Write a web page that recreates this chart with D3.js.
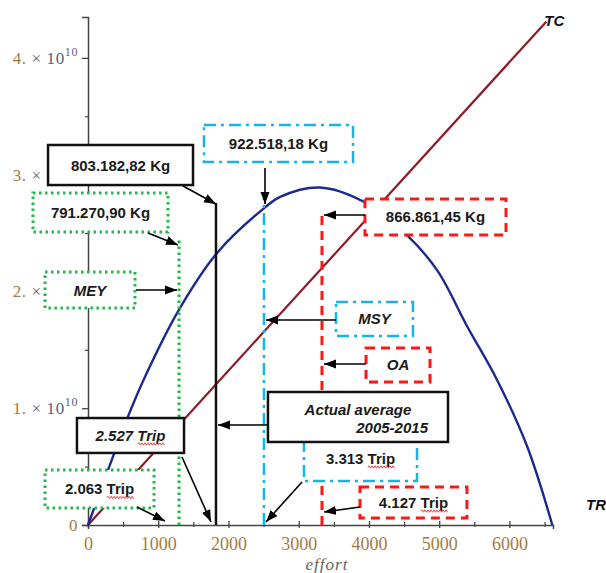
<!DOCTYPE html>
<html><head><meta charset="utf-8">
<script src="https://cdn.jsdelivr.net/npm/d3@7"></script>
<style>body{margin:0;background:#fff}</style>
</head><body>
<svg id="chart" width="606" height="573"></svg>
<script>
// ---------- DATA ----------
const effort = [0, 285, 570, 812, 1282, 1838, 2521, 2735, 3300, 3917, 4544, 4972, 5399, 5826, 6254, 6610];
const totalRevenue = [0, 0.47e10, 0.93e10, 1.27e10, 1.83e10, 2.33e10, 2.72e10, 2.81e10, 2.89e10, 2.77e10, 2.48e10, 2.18e10, 1.70e10, 1.24e10, 0.67e10, 0];
const costEffort = [0, 6524];
const totalCost = [0, 4.31e10];
const xMajorTicks = [0, 1000, 2000, 3000, 4000, 5000, 6000];
const xMinorTicks = [500, 1500, 2500, 3500, 4500, 5500, 6500];
const yMajorTicks = [0, 1e10, 2e10, 3e10, 4e10];
const yMinorTicks = [0.5e10, 1.5e10, 2.5e10, 3.5e10];
const yTickMantissa = ["0", "1.", "2.", "3.", "4."];
const refNames = ["MEY", "Actual", "MSY", "OA"];
const refEffort = [1296, 1822, 2505, 3331];
const refTop = [2.466e10, 2.757e10, 2.80e10, 2.67e10];

// annotation boxes and arrows, in data units (effort, value)
const annotations = [
  {lines:["803.182,82 Kg"], kind:"Actual", box:[-569,1495,3.254e10,2.911e10], arrow:[[1352,2.903e10],[1822,2.749e10]]},
  {lines:["791.270,90 Kg"], kind:"MEY", box:[-783,1139,2.843e10,2.509e10], arrow:[[854,2.500e10],[1281,2.398e10]]},
  {lines:["MEY"], italic:true, kind:"MEY", box:[-612,669,2.166e10,1.858e10], arrow:[[683,2.012e10],[1267,2.012e10]]},
  {lines:["922.518,18 Kg"], kind:"MSY", box:[1651,3773,3.425e10,3.108e10], arrow:[[2520,3.057e10],[2520,2.749e10]]},
  {lines:["866.861,45 Kg"], kind:"OA", box:[3943,5951,2.792e10,2.483e10], arrow:[[3943,2.655e10],[3360,2.655e10]]},
  {lines:["MSY"], italic:true, kind:"MSY", box:[3531,4627,1.910e10,1.618e10], arrow:[[3531,1.755e10],[2534,1.755e10]]},
  {lines:["OA"], italic:true, kind:"OA", box:[3958,4869,1.516e10,1.225e10], arrow:[[3958,1.379e10],[3360,1.379e10]]},
  {lines:["3.313 Trip"], kind:"MSY", box:[3075,4684,0.762e10,0.377e10], arrow:[[3047,0.368e10],[2534,0.026e10]]},
  {lines:["Actual average","2005-2015"], italic:true, kind:"Actual", box:[2562,5125,1.139e10,0.711e10], arrow:[[2562,0.856e10],[1851,0.856e10]]},
  {lines:["2.527 Trip"], italic:true, kind:"Actual", box:[-157,1367,0.916e10,0.617e10], arrow:[[1338,0.582e10],[1751,0.026e10]]},
  {lines:["2.063 Trip"], kind:"MEY", box:[-612,940,0.471e10,0.146e10], arrow:[[698,0.154e10],[1096,0.034e10]]},
  {lines:["4.127 Trip"], kind:"OA", box:[3872,5395,0.325e10,0.060e10], arrow:[[3872,0.154e10],[3360,0.111e10]]}
];

// ---------- STYLE ----------
const styles = {
  MEY:    {stroke:"#21b84a", width:3,   dash:"2.5,3.5"},
  Actual: {stroke:"#111111", width:2.5, dash:null},
  MSY:    {stroke:"#19b1ea", width:2.5, dash:"12,5,3,5"},
  OA:     {stroke:"#ff1717", width:3,   dash:"9,6"}
};
const tickColor = "#a27b42";
const expColor = "#5b6078";

const svg = d3.select("#chart");
const x = d3.scaleLinear().domain([0, 6620]).range([88, 553]);
const y = d3.scaleLinear().domain([0, 4.35e10]).range([525, 17]);

svg.append("defs").append("marker")
  .attr("id","ah").attr("viewBox","0 -5 12 10")
  .attr("markerUnits","userSpaceOnUse").attr("markerWidth",12).attr("markerHeight",10)
  .attr("refX",12).attr("refY",0).attr("orient","auto")
  .append("path").attr("d","M0,-4.5L12,0L0,4.5Z").attr("fill","#000");

// ---------- AXES ----------
const xAxis = svg.append("g").attr("transform",`translate(0,${y(0)})`)
  .call(d3.axisBottom(x).tickValues(xMajorTicks).tickSizeOuter(0).tickSize(4).tickFormat(d3.format("d")));
xAxis.select(".domain").attr("stroke","#444").attr("stroke-width",1.5);
xAxis.selectAll(".tick line").attr("y1",-4).attr("y2",3).attr("stroke","#444").attr("stroke-width",1.3);
xAxis.selectAll(".tick text").attr("y",12).attr("font-family","Liberation Serif, serif")
  .attr("font-size",18).attr("fill",tickColor);
const xMinor = svg.append("g").attr("transform",`translate(0,${y(0)})`)
  .call(d3.axisBottom(x).tickValues(xMinorTicks).tickSize(3).tickFormat(""));
xMinor.select(".domain").remove();
xMinor.selectAll(".tick line").attr("y1",-3).attr("y2",2).attr("stroke","#444").attr("stroke-width",1.2);

const yAxis = svg.append("g").attr("transform",`translate(${x(0)},0)`)
  .call(d3.axisLeft(y).tickValues(yMajorTicks).tickSizeOuter(0).tickSize(6).tickFormat(""));
yAxis.select(".domain").attr("stroke","#444").attr("stroke-width",1.5);
yAxis.selectAll(".tick line").attr("stroke","#444").attr("stroke-width",1.3);
const yMinor = svg.append("g").attr("transform",`translate(${x(0)},0)`)
  .call(d3.axisLeft(y).tickValues(yMinorTicks).tickSize(3).tickFormat(""));
yMinor.select(".domain").remove();
yMinor.selectAll(".tick line").attr("stroke","#444").attr("stroke-width",1.2);

const yLab = svg.append("g").selectAll("text").data(yMajorTicks).join("text")
  .attr("x", x(0) - 10).attr("y", d => y(d) + 6)
  .attr("text-anchor","end").attr("font-family","Liberation Serif, serif").attr("font-size",17)
  .attr("letter-spacing", 0.6);
yLab.each(function(d, i){
  const t = d3.select(this);
  t.append("tspan").attr("fill",tickColor).text(yTickMantissa[i]);
  if (d !== 0) {
    t.append("tspan").attr("fill",expColor).text(" \u00d7 10");
    t.append("tspan").attr("fill",expColor).attr("font-size",12).attr("dy",-8).text("10");
  }
});

svg.append("text").attr("x", 327).attr("y", 570).attr("text-anchor","middle")
  .attr("font-family","Liberation Serif, serif").attr("font-style","italic").attr("font-size",17)
  .attr("letter-spacing",1).attr("fill","#66625a").text("effort");

// ---------- CURVES ----------
const trData = effort.map((e,i)=>({e, v: totalRevenue[i]}));
const tcData = costEffort.map((e,i)=>({e, v: totalCost[i]}));
svg.append("path").datum(tcData)
  .attr("d", d3.line().x(d=>x(d.e)).y(d=>y(d.v)))
  .attr("fill","none").attr("stroke","#8e1b2b").attr("stroke-width",2.2);
svg.append("path").datum(trData)
  .attr("d", d3.line().curve(d3.curveCatmullRom.alpha(0.5)).x(d=>x(d.e)).y(d=>y(d.v)))
  .attr("fill","none").attr("stroke","#1c2a8c").attr("stroke-width",2.4);

svg.append("text").attr("x", x(costEffort[1]) - 2).attr("y", y(totalCost[1]) + 4)
  .attr("font-family","Liberation Sans, Arial, sans-serif").attr("font-weight","bold")
  .attr("font-style","italic").attr("font-size",15).attr("fill","#111").text("TC");
svg.append("text").attr("x", x(7090)).attr("y", y(0.171e10) + 5)
  .attr("font-family","Liberation Sans, Arial, sans-serif").attr("font-weight","bold")
  .attr("font-style","italic").attr("font-size",15).attr("fill","#111").text("TR");

// ---------- REFERENCE LINES ----------
svg.append("g").selectAll("line").data(refNames).join("line")
  .attr("x1",(d,i)=>x(refEffort[i])).attr("x2",(d,i)=>x(refEffort[i]))
  .attr("y1",y(0)).attr("y2",(d,i)=>y(refTop[i]))
  .attr("stroke",d=>styles[d].stroke).attr("stroke-width",d=>styles[d].width)
  .attr("stroke-dasharray",d=>styles[d].dash);

// ---------- ANNOTATIONS ----------
const font = "Liberation Sans, Arial, sans-serif";
annotations.forEach(a => {
  const s = styles[a.kind];
  const x0 = x(a.box[0]), x1 = x(a.box[1]), y0 = y(a.box[2]), y1 = y(a.box[3]);
  const g = svg.append("g");
  g.append("rect").attr("x",x0).attr("y",y0).attr("width",x1-x0).attr("height",y1-y0)
    .attr("fill","#fff").attr("stroke",s.stroke).attr("stroke-width",s.width)
    .attr("stroke-dasharray",s.dash);
  if (a.lines.length === 1) {
    const t = g.append("text").attr("x",(x0+x1)/2).attr("y",(y0+y1)/2 + 5.5)
      .attr("text-anchor","middle").attr("font-family",font).attr("font-weight","bold")
      .attr("font-style",a.italic ? "italic" : "normal").attr("font-size",15).attr("fill","#1a1a1a")
      .text(a.lines[0]);
    const idx = a.lines[0].indexOf("Trip");
    if (idx >= 0) {
      const node = t.node();
      const s0 = node.getExtentOfChar(idx), s1 = node.getExtentOfChar(idx + 3);
      const xs = s0.x, xe = s1.x + s1.width, yb = (y0+y1)/2 + 8.5;
      let dstr = `M${xs},${yb}`;
      let up = true;
      for (let xx = xs + 1.5; xx <= xe; xx += 1.5) { dstr += `L${xx},${yb + (up ? -1.2 : 1.2)}`; up = !up; }
      g.append("path").attr("d",dstr).attr("fill","none").attr("stroke","#e0302a").attr("stroke-width",0.9);
    }
  } else {
    g.append("text").attr("x",(x0+x1)/2).attr("y",y0 + 23)
      .attr("text-anchor","middle").attr("font-family",font).attr("font-weight","bold")
      .attr("font-style","italic").attr("font-size",15).attr("fill","#1a1a1a").text(a.lines[0]);
    g.append("text").attr("x",x1 - 20).attr("y",y0 + 41)
      .attr("text-anchor","end").attr("font-family",font).attr("font-weight","bold")
      .attr("font-style","italic").attr("font-size",15).attr("fill","#1a1a1a").text(a.lines[1]);
  }
});
svg.append("g").selectAll("path").data(annotations).join("path")
  .attr("d", a => d3.line()(a.arrow.map(p => [x(p[0]), y(p[1])])))
  .attr("fill","none").attr("stroke","#000").attr("stroke-width",1.6)
  .attr("marker-end","url(#ah)");
</script>
</body></html>
